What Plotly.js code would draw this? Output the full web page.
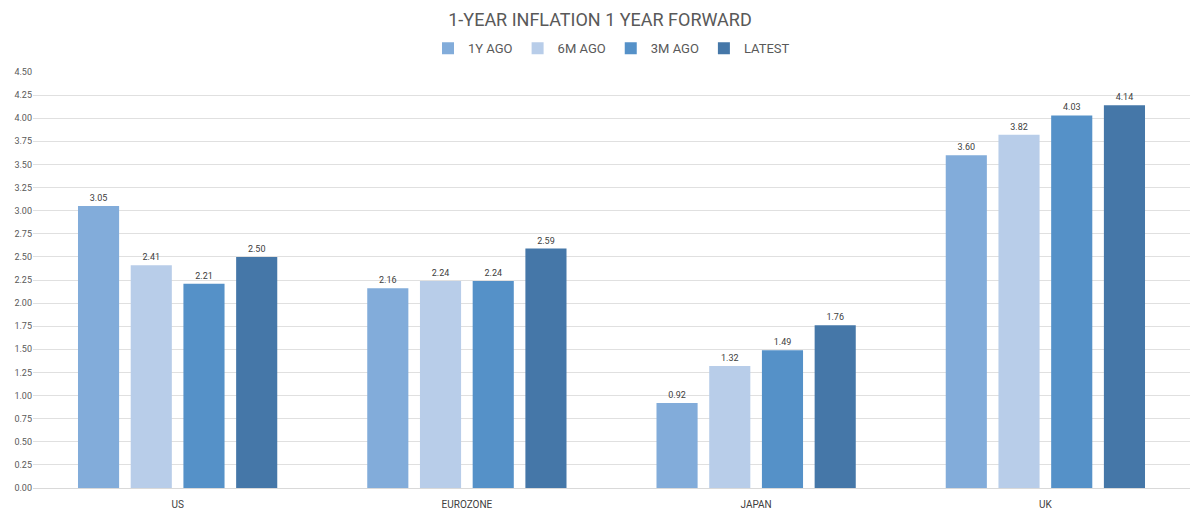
<!DOCTYPE html>
<html><head><meta charset="utf-8">
<script src="https://cdn.plot.ly/plotly-3.0.1.min.js"></script>
<style>html,body{margin:0;padding:0;background:#fff}#chart{width:1200px;height:514px}</style>
</head><body><div id="chart"></div>
<script>
const categories = ["US", "EUROZONE", "JAPAN", "UK"];
const seriesNames = ["1Y AGO", "6M AGO", "3M AGO", "LATEST"];
const oneYearAgo = [3.05, 2.16, 0.92, 3.60];
const sixMonthsAgo = [2.41, 2.24, 1.32, 3.82];
const threeMonthsAgo = [2.21, 2.24, 1.49, 4.03];
const latest = [2.50, 2.59, 1.76, 4.14];
const colors = ["#82acda", "#b8cde9", "#5591c8", "#4577a8"];
const tickVals = [0,0.25,0.5,0.75,1,1.25,1.5,1.75,2,2.25,2.5,2.75,3,3.25,3.5,3.75,4,4.25,4.5];

const seriesValues = [oneYearAgo, sixMonthsAgo, threeMonthsAgo, latest];
const font = "Roboto, 'DejaVu Sans', sans-serif";
const traces = seriesValues.map((vals, i) => ({
  type: "bar",
  name: seriesNames[i],
  x: categories,
  y: vals,
  marker: {color: colors[i]},
  text: vals.map(v => v.toFixed(2)),
  textposition: "outside",
  textfont: {size: 9, color: "#404040", family: font},
  cliponaxis: false,
  hoverinfo: "x+y+name"
}));

const layout = {
  width: 1200, height: 514,
  margin: {l: 33, r: 10, t: 72, b: 26},
  paper_bgcolor: "#fff", plot_bgcolor: "#fff",
  title: {text: "1-YEAR INFLATION 1 YEAR FORWARD", x: 0.5, xanchor: "center", y: 0.962, yanchor: "middle",
    font: {size: 18, color: "#595959", family: font}},
  legend: {orientation: "h", x: 0.5, xanchor: "center", y: 1.057, yanchor: "middle",
    font: {size: 13, color: "#595959", family: font}, traceorder: "normal", itemwidth: 30,
    itemsizing: "constant"},
  barmode: "group",
  bargap: 0.271,
  bargroupgap: 0.22,
  xaxis: {type: "category", showgrid: false, zeroline: false, showline: false, ticks: "outside",
    ticklen: 7, tickcolor: "rgba(0,0,0,0)",
    tickfont: {size: 10, color: "#404040", family: font}},
  yaxis: {range: [0, 4.5], tickvals: tickVals, tickformat: ".2f", showgrid: true, gridcolor: "#e0e0e0",
    gridwidth: 1, zeroline: true, zerolinecolor: "#d9d9d9", showline: false, ticks: "",
    tickfont: {size: 9, color: "#595959", family: font}, fixedrange: true},
  showlegend: true
};
Plotly.newPlot("chart", traces, layout, {displayModeBar: false, staticPlot: true});
</script></body></html>
